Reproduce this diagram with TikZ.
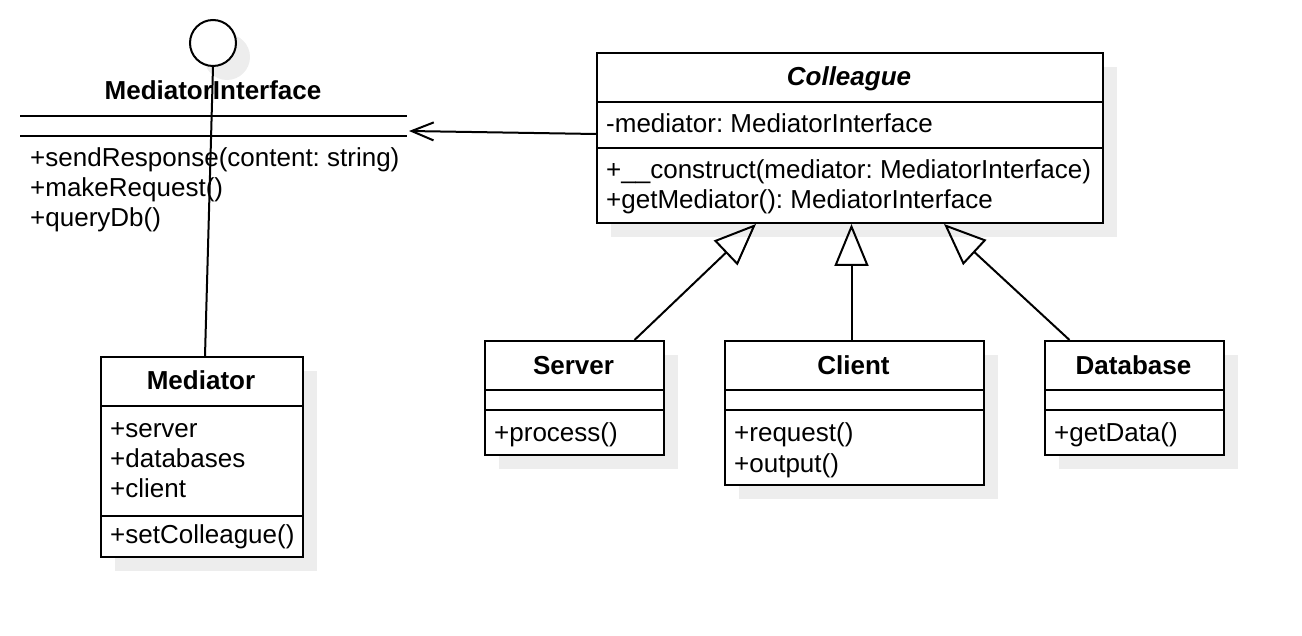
\documentclass[tikz,border=0pt]{standalone}
\usepackage{fontspec}
\setmainfont{Liberation Sans}
\usetikzlibrary{arrows.meta,shadows}
\definecolor{shade}{gray}{0.93}

\tikzset{
	umlbox/.style={draw, line width=2pt, fill=white, anchor=north west, inner sep=0,
		drop shadow={shadow xshift=14pt, shadow yshift=-14pt, fill=shade, opacity=1}},
	title/.style={anchor=base, inner sep=0, font=\bfseries},
	row/.style={anchor=base west, inner sep=0},
	sep/.style={line width=2pt},
	inherit/.style={line width=2pt, -{Triangle[open, length=42pt, width=34pt]}},
}

\begin{document}
\frenchspacing
\fontsize{26}{30}\selectfont
\begin{tikzpicture}[x=1pt, y=-1pt]
		\useasboundingbox (0,0) rectangle (1302,636);
		
		\node[umlbox, circle, anchor=center, minimum size=46pt] (lollipop) at (213,43) {};
		\node[title] (mi) at (213,100) {MediatorInterface};
		\draw[sep] (20,116) -- (407,116);
		\draw[sep] (20,136) -- (407,136);
		\node[row] (mi-1) at (30,167) {+sendResponse(content: string)};
		\node[row] (mi-2) at (30,197) {+makeRequest()};
		\node[row] (mi-3) at (30,227) {+queryDb()};
		\coordinate (mi-end) at (409,131);
		
		\node[umlbox, minimum width=506pt, minimum height=170pt] (colleague) at (596,52) {};
		\node[title, font=\bfseries\itshape] (colleague-t) at (849,86) {Colleague};
		\draw[sep] ([yshift=-50pt]colleague.north west) -- ([yshift=-50pt]colleague.north east);
		\draw[sep] ([yshift=-96pt]colleague.north west) -- ([yshift=-96pt]colleague.north east);
		\node[row] (colleague-1) at (606,133) {-mediator: MediatorInterface};
		\node[row] (colleague-2) at (606,179) {+\_\_construct(mediator: MediatorInterface)};
		\node[row] (colleague-3) at (606,209) {+getMediator(): MediatorInterface};
		
		\node[umlbox, minimum width=179pt, minimum height=114pt] (server) at (484,340) {};
		\node[umlbox, minimum width=259pt, minimum height=144pt] (client) at (724,340) {};
		\node[umlbox, minimum width=179pt, minimum height=114pt] (database) at (1044,340) {};
		\foreach \c in {server,client,database} {
			\draw[sep] ([yshift=-50pt]\c.north west) -- ([yshift=-50pt]\c.north east);
			\draw[sep] ([yshift=-70pt]\c.north west) -- ([yshift=-70pt]\c.north east);
		}
		\node[title] (server-t) at (573.5,374) {Server};
		\node[row] (server-1) at (494,442) {+process()};
		\node[title] (client-t) at (853.5,374) {Client};
		\node[row] (client-1) at (734,442) {+request()};
		\node[row] (client-2) at (734,472) {+output()};
		\node[title] (database-t) at (1133.5,374) {Database};
		\node[row] (database-1) at (1054,442) {+getData()};
		
		\node[umlbox, minimum width=202pt, minimum height=200pt] (mediator) at (100,356) {};
		\draw[sep] ([yshift=-50pt]mediator.north west) -- ([yshift=-50pt]mediator.north east);
		\draw[sep] ([yshift=-160pt]mediator.north west) -- ([yshift=-160pt]mediator.north east);
		\node[title] (mediator-t) at (201,390) {Mediator};
		\node[row] (mediator-1) at (110,437) {+server};
		\node[row] (mediator-2) at (110,467) {+databases};
		\node[row] (mediator-3) at (110,497) {+client};
		\node[row] (mediator-4) at (110,543) {+setColleague()};
		
		\draw[sep] (lollipop.south) -- ([xshift=3pt]mediator.north);
		\draw[sep, -{Straight Barb[length=22pt, width=18pt]}] ([yshift=4pt]colleague.west) -- (mi-end);
		\draw[inherit] ([xshift=60pt]server.north) -- ([xshift=-94pt]colleague.south);
		\draw[inherit] ([xshift=-3pt]client.north) -- ([xshift=1.5pt]colleague.south);
		\draw[inherit] ([xshift=-65pt]database.north) -- ([xshift=94pt]colleague.south);
\end{tikzpicture}
\end{document}
